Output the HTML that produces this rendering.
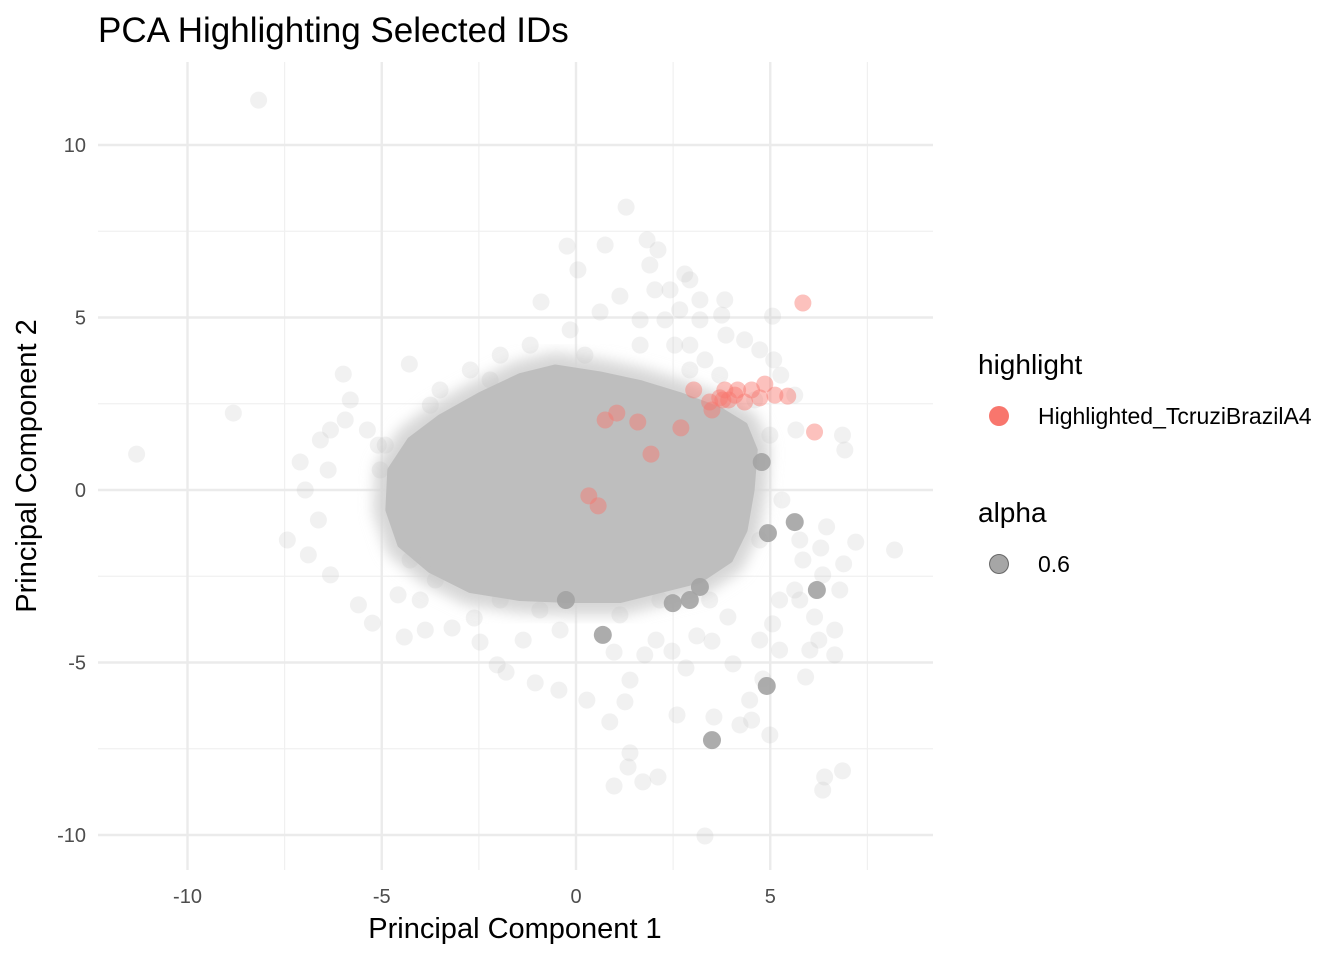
<!DOCTYPE html>
<html><head><meta charset="utf-8"><style>
html,body{margin:0;padding:0;background:#fff;}
svg{display:block;font-family:"Liberation Sans",sans-serif;}
</style></head><body>
<svg id="chart" width="1344" height="960">
<filter id="blurf"><feGaussianBlur stdDeviation="7"/></filter>
<text x="98" y="42" font-size="35" fill="#000">PCA Highlighting Selected IDs</text>
<g id="grid"></g>
<g id="core"></g>
<g id="pts"></g>
<g id="ticks"></g>
<text x="515" y="938" font-size="29" text-anchor="middle">Principal Component 1</text>
<text transform="translate(36,466) rotate(-90)" font-size="29" text-anchor="middle">Principal Component 2</text>
<g>
<text x="978" y="374" font-size="28">highlight</text>
<circle cx="999" cy="416" r="10" fill="#F8766D"/>
<text x="1038" y="424" font-size="23">Highlighted_TcruziBrazilA4</text>
<text x="978" y="522" font-size="28">alpha</text>
<circle cx="999" cy="564" r="9.5" fill="#000" fill-opacity="0.35" stroke="#000" stroke-opacity="0.5" stroke-width="1"/>
<text x="1038" y="572" font-size="23">0.6</text>
</g>
</svg>
<script>
const xTicks=[-10,-5,0,5];
const yTicks=[-10,-5,0,5,10];
const xMinor=[-7.5,-2.5,2.5,7.5];
const yMinor=[-7.5,-2.5,2.5,7.5];
const faintX=[-8.17,-11.31,-8.82,8.20,1.29,3.32,1.83,0.75,-0.23,0.05,2.80,2.11,-0.90,5.06,-4.29,-5.99,-5.81,-7.43,-7.10,7.20,6.86,6.40,6.35,4.99,4.22,3.55,1.39,1.34,1.72,0.98,2.11,2.60,-1.05,-0.44,0.87,1.26,0.28,-2.03,-3.88,-3.19,-2.47,-4.42,-5.24,-5.60,6.92,6.86,6.30,6.35,6.66,6.66,6.25,6.02,5.91,6.14,6.79,6.89,6.45,5.06,4.81,4.47,4.52,4.04,2.83,3.91,3.50,3.11,2.47,2.06,1.77,1.39,0.98,-0.41,-1.80,-1.36,-2.62,-4.01,-4.58,-6.32,-6.89,-6.63,-6.97,-6.38,-6.58,-5.94,-6.32,-5.37,-5.09,-3.50,-2.72,-1.95,-1.18,-0.15,0.62,1.13,1.65,2.03,2.67,3.19,3.75,3.86,4.34,4.73,5.09,5.27,5.63,5.66,5.30,5.76,5.84,5.63,5.24,4.73,5.24,5.76,4.73,3.44,2.16,1.13,-0.93,-1.95,-3.62,-4.27,-5.04,-4.91,-3.75,-2.21,0.23,1.65,2.93,3.32,3.70,4.60,4.99,2.42,2.93,2.54,2.29,1.90,2.93,3.19,3.83];
const faintY=[11.30,1.04,2.23,-1.74,8.20,-10.03,7.25,7.10,7.07,6.38,6.26,6.96,5.45,5.04,3.65,3.36,2.61,-1.45,0.81,-1.51,-8.14,-8.32,-8.70,-7.10,-6.81,-6.58,-7.62,-8.03,-8.46,-8.58,-8.32,-6.52,-5.59,-5.80,-6.72,-6.14,-6.09,-5.07,-4.06,-4.00,-4.41,-4.26,-3.86,-3.33,1.16,1.59,-1.68,-2.46,-4.06,-4.78,-4.35,-4.64,-5.42,-3.68,-2.90,-2.14,-1.07,-3.88,-5.48,-6.09,-6.67,-5.04,-5.16,-3.68,-4.38,-4.23,-4.67,-4.35,-4.78,-5.51,-4.70,-4.06,-5.28,-4.35,-3.71,-3.19,-3.04,-2.46,-1.88,-0.87,0.00,0.58,1.45,2.03,1.74,1.74,1.30,2.90,3.48,3.91,4.20,4.64,5.16,5.62,4.93,5.80,5.22,5.51,5.07,4.49,4.35,4.06,3.77,3.33,2.75,1.74,-0.29,-1.45,-2.03,-2.90,-3.19,-4.35,-4.64,-3.19,-1.45,-3.19,-3.19,-3.62,-3.48,-3.19,-2.61,-2.03,0.58,1.30,2.46,3.19,3.91,4.20,4.20,3.77,3.33,2.61,1.59,5.80,3.48,4.20,4.93,6.52,6.09,4.93,5.51];
const darkX=[5.63,4.94,3.50,4.91,6.20,4.78,3.19,2.93,0.69,-0.26,2.49];
const darkY=[-0.93,-1.25,-7.25,-5.68,-2.90,0.81,-2.81,-3.19,-4.20,-3.19,-3.28];
const redX=[5.84,6.14,3.03,3.93,3.70,4.09,4.34,4.73,5.12,4.86,5.45,4.52,3.44,4.16,3.83,3.50,0.75,1.05,1.59,2.70,1.93,0.33,0.57,3.78];
const redY=[5.42,1.68,2.90,2.61,2.67,2.75,2.55,2.67,2.75,3.07,2.72,2.90,2.55,2.90,2.90,2.32,2.03,2.23,1.97,1.80,1.04,-0.17,-0.46,2.61];
const coreX=[-4.78,-4.27,-3.50,-2.47,-1.44,-0.54,0.62,1.65,2.67,3.70,4.34,4.60,4.52,4.34,3.96,3.19,2.16,1.13,-0.15,-1.44,-2.72,-3.75,-4.52,-4.83];
const coreY=[0.58,1.45,2.10,2.75,3.30,3.55,3.35,3.10,2.75,2.32,1.88,1.16,0.00,-1.16,-2.03,-2.61,-2.90,-3.19,-3.19,-3.13,-2.90,-2.32,-1.59,-0.58];

const NS='http://www.w3.org/2000/svg';
const X0=98,X1=933,Y0=62,Y1=870;
function sx(v){return 576+v*38.85;}
function sy(v){return 490-v*34.5;}
function mk(t,a,p){const e=document.createElementNS(NS,t);for(const k in a)e.setAttribute(k,a[k]);p.appendChild(e);return e;}
const grid=document.getElementById('grid');
mk('rect',{x:X0,y:Y0,width:X1-X0,height:Y1-Y0,fill:'#fff'},grid);
xMinor.forEach(v=>{const l=mk('line',{x1:sx(v),x2:sx(v),y1:Y0,y2:Y1,stroke:'#f0f0f0','stroke-width':1.2},grid);

});
yMinor.forEach(v=>{const l=mk('line',{x1:X0,x2:X1,y1:sy(v),y2:sy(v),stroke:'#f0f0f0','stroke-width':1.2},grid);

});
xTicks.forEach(v=>{const l=mk('line',{x1:sx(v),x2:sx(v),y1:Y0,y2:Y1,stroke:'#ebebeb','stroke-width':2.4},grid);

});
yTicks.forEach(v=>{const l=mk('line',{x1:X0,x2:X1,y1:sy(v),y2:sy(v),stroke:'#ebebeb','stroke-width':2.4},grid);

});
const ticks=document.getElementById('ticks');
xTicks.forEach(v=>{const t=mk('text',{x:sx(v),y:903,'font-size':20,fill:'#4d4d4d','text-anchor':'middle'},ticks);t.textContent=v;

});
yTicks.forEach(v=>{const t=mk('text',{x:86,y:sy(v)+7,'font-size':20,fill:'#4d4d4d','text-anchor':'end'},ticks);t.textContent=v;

});
const core=document.getElementById('core');
const pts=coreX.map((v,i)=>sx(v)+','+sy(coreY[i])).join(' ');
const halo=mk('polygon',{points:pts,fill:'#d4d4d4',stroke:'#d6d6d6','stroke-width':30,'stroke-linejoin':'round',filter:'url(#blurf)'},core);


const poly=mk('polygon',{points:pts,fill:'#bebebe',stroke:'#bebebe','stroke-width':6,'stroke-linejoin':'round'},core);


const g=document.getElementById('pts');
faintX.forEach((v,i)=>{const c=mk('circle',{cx:sx(v),cy:sy(faintY[i]),r:8.5,fill:'#bebebe','fill-opacity':0.22},g);

});
darkX.forEach((v,i)=>{const c=mk('circle',{cx:sx(v),cy:sy(darkY[i]),r:9,fill:'#a3a3a3','fill-opacity':0.9},g);

});
redX.forEach((v,i)=>{const c=mk('circle',{cx:sx(v),cy:sy(redY[i]),r:8.5,fill:'#F8766D','fill-opacity':0.45},g);

});
</script>
</body></html>
